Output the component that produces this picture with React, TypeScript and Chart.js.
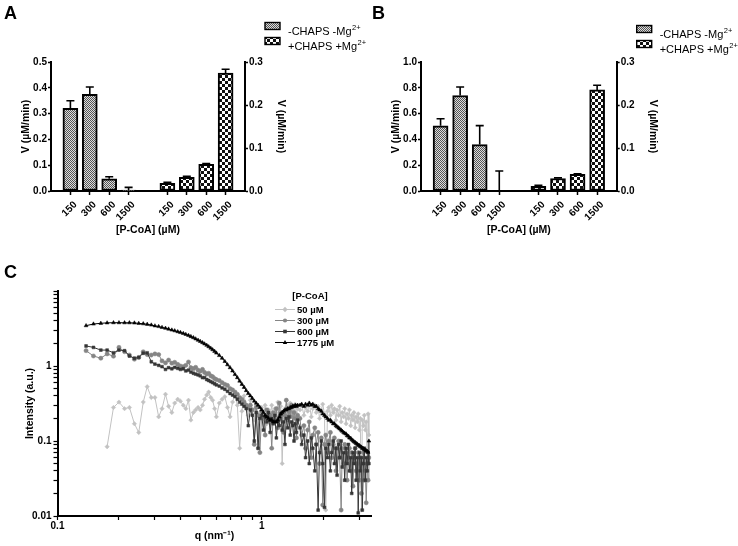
import React, { useEffect, useRef } from 'react';
import { Chart, registerables } from 'chart.js';

Chart.register(...registerables);

const FONT = "'Liberation Sans', Arial, Helvetica, sans-serif";
Chart.defaults.font.family = FONT;
Chart.defaults.color = '#000';

// ---------------- Panels A & B (bar charts) ----------------
const concentrations = ['150', '300', '600', '1500'];
const legendNames = ['-CHAPS -Mg', '+CHAPS +Mg'];
const legendSup = '2+';

const aMinus = [0.32, 0.375, 0.047, 0.004];
const aMinusErr = [0.03, 0.028, 0.008, 0.01];
const aPlus = [0.018, 0.032, 0.062, 0.274];
const aPlusErr = [0.002, 0.002, 0.002, 0.009];

const bMinus = [0.505, 0.74, 0.36, 0];
const bMinusErr = [0.055, 0.066, 0.147, 0.155];
const bPlus = [0.011, 0.029, 0.039, 0.235];
const bPlusErr = [0.002, 0.0015, 0.001, 0.011];

const aLeftAxis = { max: 0.5, step: 0.1 };
const bLeftAxis = { max: 1.0, step: 0.2 };
const rightAxis = { max: 0.3, step: 0.1 };

// ---------------- Panel C (SAXS curves) ----------------
const qLow = [0.138, 0.150, 0.163, 0.175, 0.188, 0.200, 0.213, 0.225, 0.238, 0.250,
  0.263, 0.275, 0.288, 0.300, 0.313, 0.325, 0.338, 0.350, 0.363, 0.375,
  0.388, 0.400, 0.413, 0.425, 0.438, 0.450, 0.463, 0.475, 0.488, 0.500,
  0.513, 0.525, 0.538, 0.550, 0.563, 0.575, 0.588, 0.600];
const qMid = [0.62, 0.64, 0.66, 0.68, 0.70, 0.72, 0.74, 0.76, 0.78, 0.80,
  0.82, 0.84, 0.86, 0.88, 0.90, 0.92, 0.94, 0.96, 0.98, 1.00,
  1.02, 1.04, 1.06, 1.08, 1.10, 1.12, 1.14, 1.16, 1.18, 1.20,
  1.22, 1.24, 1.26, 1.28, 1.30, 1.32, 1.34, 1.36, 1.38, 1.40,
  1.42, 1.44, 1.46, 1.48, 1.50];
const qHigh = [1.54, 1.57, 1.61, 1.64, 1.68, 1.71, 1.75, 1.78, 1.82, 1.85,
  1.89, 1.92, 1.96, 1.99, 2.03, 2.06, 2.10, 2.13, 2.17, 2.20,
  2.24, 2.27, 2.31, 2.34, 2.38, 2.41, 2.45, 2.48, 2.52, 2.55,
  2.59, 2.62, 2.66, 2.69, 2.73, 2.76, 2.80, 2.83, 2.87, 2.90,
  2.94, 2.97, 3.01, 3.04, 3.08, 3.11, 3.15, 3.18, 3.22, 3.25,
  3.29, 3.32, 3.35];

const i50Low = [null, null, null, 0.084, 0.28, 0.33, 0.27, 0.28, 0.17, 0.13,
  0.33, 0.53, 0.38, 0.38, 0.21, 0.27, 0.42, 0.29, 0.24, 0.32,
  0.36, 0.34, 0.30, 0.27, 0.35, 0.19, 0.24, 0.26, 0.28, 0.26,
  0.30, 0.36, 0.41, 0.45, 0.38, 0.35, 0.27, 0.21];
const i50Mid = [0.32, 0.36, 0.39, 0.28, 0.21, 0.33, 0.42, 0.30, 0.08, 0.25,
  0.40, 0.30, 0.22, 0.35, 0.26, 0.19, 0.30, 0.08, 0.24, 0.28,
  0.20, 0.30, 0.17, 0.26, 0.22, 0.30, 0.18, 0.27, 0.21, 0.33,
  0.24, 0.29, 0.05, 0.22, 0.27, 0.20, 0.30, 0.24, 0.32, 0.22,
  0.28, 0.25, 0.31, 0.23, 0.27];
const i50High = [0.26, 0.30, 0.22, 0.28, 0.25, 0.32, 0.21, 0.27, 0.30, 0.24,
  0.29, 0.20, 0.26, 0.31, 0.23, 0.012, 0.25, 0.28, 0.22, 0.30,
  0.24, 0.27, 0.19, 0.26, 0.22, 0.29, 0.18, 0.24, 0.21, 0.27,
  0.17, 0.23, 0.20, 0.26, 0.16, 0.22, 0.19, 0.24, 0.15, 0.21,
  0.18, 0.23, 0.14, 0.20, 0.012, 0.19, 0.16, 0.22, 0.14, 0.18,
  0.05, 0.23, 0.12];

const i300Low = [1.60, 1.36, 1.27, 1.45, 1.35, 1.77, 1.55, 1.40, 1.23, 1.30,
  1.55, 1.42, 1.40, 1.45, 1.42, 1.17, 1.10, 1.20, 1.09, 1.12,
  1.05, 1.00, 0.98, 1.02, 1.13, 0.95, 0.92, 0.96, 0.88, 0.85,
  0.90, 0.82, 0.78, 0.80, 0.74, 0.72, 0.68, 0.66];
const i300Mid = [0.64, 0.60, 0.57, 0.55, 0.50, 0.48, 0.45, 0.42, 0.38, 0.36,
  0.33, 0.30, 0.28, 0.30, 0.26, 0.09, 0.28, 0.22, 0.07, 0.25,
  0.20, 0.12, 0.26, 0.19, 0.22, 0.08, 0.24, 0.18, 0.27, 0.15,
  0.32, 0.20, 0.24, 0.13, 0.22, 0.35, 0.19, 0.25, 0.21, 0.30,
  0.17, 0.24, 0.20, 0.11, 0.22];
const i300High = [0.20, 0.12, 0.16, 0.08, 0.14, 0.18, 0.06, 0.12, 0.15, 0.09,
  0.13, 0.05, 0.11, 0.014, 0.09, 0.12, 0.07, 0.10, 0.13, 0.06,
  0.09, 0.11, 0.04, 0.08, 0.10, 0.06, 0.012, 0.08, 0.05, 0.09,
  0.07, 0.03, 0.06, 0.08, 0.04, 0.07, 0.025, 0.06, 0.08, 0.04,
  0.05, 0.07, 0.03, 0.06, 0.02, 0.05, 0.07, 0.03, 0.04, 0.015,
  0.05, 0.03, 0.06];

const i600Low = [1.85, 1.77, 1.63, 1.63, 1.50, 1.63, 1.60, 1.36, 1.27, 1.30,
  1.48, 1.50, 1.14, 1.06, 1.02, 0.98, 0.90, 0.95, 0.92, 0.96,
  0.93, 0.90, 0.92, 0.86, 0.88, 0.83, 0.80, 0.78, 0.76, 0.74,
  0.70, 0.70, 0.66, 0.64, 0.62, 0.60, 0.58, 0.56];
const i600Mid = [0.54, 0.51, 0.49, 0.46, 0.43, 0.41, 0.39, 0.36, 0.33, 0.31,
  0.29, 0.27, 0.16, 0.26, 0.22, 0.10, 0.24, 0.08, 0.20, 0.22,
  0.14, 0.21, 0.18, 0.24, 0.13, 0.20, 0.17, 0.22, 0.11, 0.19,
  0.16, 0.23, 0.14, 0.18, 0.09, 0.20, 0.15, 0.21, 0.12, 0.18,
  0.16, 0.10, 0.17, 0.13, 0.19];
const i600High = [0.15, 0.09, 0.12, 0.06, 0.10, 0.05, 0.11, 0.08, 0.04, 0.09,
  0.012, 0.07, 0.10, 0.05, 0.013, 0.08, 0.06, 0.09, 0.04, 0.07,
  0.10, 0.05, 0.08, 0.035, 0.09, 0.06, 0.10, 0.045, 0.07, 0.03,
  0.08, 0.05, 0.09, 0.04, 0.06, 0.02, 0.07, 0.05, 0.08, 0.03,
  0.06, 0.011, 0.07, 0.04, 0.06, 0.012, 0.05, 0.08, 0.03, 0.06,
  0.04, 0.07, 0.05];

const i1775Low = [3.45, 3.63, 3.71, 3.76, 3.78, 3.78, 3.77, 3.77, 3.75, 3.70,
  3.66, 3.60, 3.52, 3.43, 3.36, 3.27, 3.19, 3.11, 3.02, 2.95,
  2.87, 2.80, 2.72, 2.64, 2.56, 2.47, 2.39, 2.30, 2.21, 2.13,
  2.05, 1.97, 1.89, 1.81, 1.73, 1.65, 1.57, 1.49];
const i1775Mid = [1.38, 1.27, 1.15, 1.04, 0.95, 0.86, 0.77, 0.70, 0.63, 0.57,
  0.52, 0.47, 0.43, 0.40, 0.37, 0.34, 0.32, 0.30, 0.28, 0.26,
  0.24, 0.22, 0.21, 0.20, 0.19, 0.19, 0.18, 0.18, 0.18, 0.19,
  0.21, 0.23, 0.24, 0.25, 0.26, 0.26, 0.27, 0.27, 0.28, 0.28,
  0.29, 0.29, 0.30, 0.29, 0.30];
const i1775High = [0.30, 0.31, 0.29, 0.31, 0.30, 0.32, 0.30, 0.31, 0.29, 0.29,
  0.27, 0.26, 0.25, 0.23, 0.22, 0.21, 0.20, 0.19, 0.19, 0.18,
  0.17, 0.17, 0.16, 0.155, 0.15, 0.145, 0.14, 0.135, 0.13, 0.127,
  0.124, 0.118, 0.116, 0.11, 0.109, 0.104, 0.101, 0.098, 0.096, 0.093,
  0.091, 0.088, 0.087, 0.084, 0.083, 0.08, 0.079, 0.077, 0.076, 0.074,
  0.073, 0.071, 0.10];

const cSeriesLabels = ['50 \u00b5M', '300 \u00b5M', '600 \u00b5M', '1775 \u00b5M'];
const cXTickLabels = ['0.1', '1'];
const cYTickLabels = ['0.01', '0.1', '1'];

// ---------------- helpers ----------------
function makePattern(ctx: CanvasRenderingContext2D, kind: 'fine' | 'coarse'): CanvasPattern | string {
  const c = document.createElement('canvas');
  const g = c.getContext('2d');
  if (!g) return '#999';
  if (kind === 'fine') {
    c.width = 2; c.height = 2;
    g.fillStyle = '#dcdcdc'; g.fillRect(0, 0, 2, 2);
    g.fillStyle = '#555555'; g.fillRect(0, 0, 1, 1); g.fillRect(1, 1, 1, 1);
  } else {
    c.width = 6; c.height = 6;
    g.fillStyle = '#ffffff'; g.fillRect(0, 0, 6, 6);
    g.fillStyle = '#111111'; g.fillRect(0, 0, 3, 3); g.fillRect(3, 3, 3, 3);
  }
  return ctx.createPattern(c, 'repeat') || '#999';
}

const errorBarsPlugin = {
  id: 'errorBars',
  afterDatasetsDraw(chart: any) {
    const ctx = chart.ctx;
    ctx.save();
    ctx.strokeStyle = '#000';
    ctx.lineWidth = 1.6;
    chart.data.datasets.forEach((ds: any, di: number) => {
      if (!ds.errors) return;
      const meta = chart.getDatasetMeta(di);
      const yScale = chart.scales[ds.yAxisID];
      meta.data.forEach((el: any, j: number) => {
        const v = ds.data[j];
        const e = ds.errors[j];
        if (v == null || e == null) return;
        const x = el.x;
        const y0 = yScale.getPixelForValue(v);
        const y1 = yScale.getPixelForValue(v + e);
        ctx.beginPath();
        ctx.moveTo(x, y0);
        ctx.lineTo(x, y1);
        ctx.moveTo(x - 4, y1);
        ctx.lineTo(x + 4, y1);
        ctx.stroke();
      });
    });
    ctx.restore();
  },
};

interface BarPanel {
  minus: number[]; minusErr: number[]; plus: number[]; plusErr: number[];
  left: { max: number; step: number };
  width: number; plotRight: number; legendDy: number;
}

function buildBarChart(canvas: HTMLCanvasElement, p: BarPanel): Chart {
  const ctx = canvas.getContext('2d') as CanvasRenderingContext2D;
  const fine = makePattern(ctx, 'fine');
  const coarse = makePattern(ctx, 'coarse');
  const labels = [' ', ...concentrations, '', ...concentrations, ' '];
  const pad = (vals: number[], start: number) => labels.map((_, i) => (i >= start && i < start + vals.length ? vals[i - start] : null));

  const height = 270;
  const plotLeft = 51;
  const plotTop = 62;
  const plotBottom = 191;
  const xAxisH = 45;
  const rightAxisW = 42;

  const legendPlugin = {
    id: 'barLegend',
    afterDraw(chart: any) {
      const c = chart.ctx;
      const x0 = p.plotRight + 20;
      c.save();
      chart.data.datasets.forEach((ds: any, i: number) => {
        const top = 22.5 + p.legendDy + i * 15;
        c.fillStyle = ds.backgroundColor;
        c.fillRect(x0, top, 15, 7);
        c.strokeStyle = '#000';
        c.lineWidth = 1.4;
        c.strokeRect(x0, top, 15, 7);
        c.fillStyle = '#000';
        c.textAlign = 'left';
        c.textBaseline = 'alphabetic';
        c.font = `11px ${FONT}`;
        const base = top + 12;
        c.fillText(legendNames[i], x0 + 23, base);
        const w = c.measureText(legendNames[i]).width;
        c.font = `7.5px ${FONT}`;
        c.fillText(legendSup, x0 + 23 + w + 0.5, base - 4.5);
      });
      c.restore();
    },
  };

  const tickFont = { family: FONT, size: 10, weight: 'bold' as const };
  const titleFont = { family: FONT, size: 10.5, weight: 'bold' as const };

  return new Chart(canvas, {
    type: 'bar',
    data: {
      labels,
      datasets: [
        {
          label: legendNames[0],
          data: pad(p.minus, 1),
          errors: pad(p.minusErr, 1),
          yAxisID: 'y',
          backgroundColor: fine,
          borderColor: '#000',
          borderWidth: 2,
          borderSkipped: false,
          barThickness: 15,
          grouped: false,
        } as any,
        {
          label: legendNames[1],
          data: pad(p.plus, 6),
          errors: pad(p.plusErr, 6),
          yAxisID: 'y1',
          backgroundColor: coarse,
          borderColor: '#000',
          borderWidth: 2,
          borderSkipped: false,
          barThickness: 15,
          grouped: false,
        } as any,
      ],
    },
    options: {
      animation: false,
      responsive: false,
      events: [],
      layout: {
        padding: {
          left: 0,
          top: plotTop,
          right: p.width - p.plotRight - rightAxisW,
          bottom: height - plotBottom - xAxisH,
        },
      },
      plugins: { legend: { display: false }, tooltip: { enabled: false } },
      scales: {
        x: {
          type: 'category',
          offset: false,
          grid: {
            offset: false,
            drawOnChartArea: false,
            drawTicks: true,
            tickLength: 4,
            tickWidth: 1.5,
            tickColor: (c: any) => (c.tick && String(c.tick.label).trim() ? '#000' : 'rgba(0,0,0,0)'),
          },
          border: { display: true, color: '#000', width: 2 },
          ticks: { autoSkip: false, minRotation: 45, maxRotation: 45, font: tickFont, color: '#000', padding: 4, labelOffset: 5 },
          title: { display: true, text: '[P-CoA] (\u00b5M)', font: titleFont, color: '#000', padding: { top: 0, bottom: 0 } },
          afterFit: (s: any) => { s.height = xAxisH; },
        } as any,
        y: {
          type: 'linear',
          position: 'left',
          min: 0,
          max: p.left.max,
          ticks: { stepSize: p.left.step, font: tickFont, color: '#000', padding: 1, callback: (v: any) => Number(v).toFixed(1) },
          grid: { drawOnChartArea: false, tickLength: 3, tickWidth: 1.5, tickColor: '#000' },
          border: { display: true, color: '#000', width: 2 },
          title: { display: true, text: 'V (\u00b5M/min)', font: titleFont, color: '#000', padding: { top: 20, bottom: 0 } },
          afterFit: (s: any) => { s.width = plotLeft; },
        } as any,
        y1: {
          type: 'linear',
          position: 'right',
          min: 0,
          max: rightAxis.max,
          ticks: { stepSize: rightAxis.step, font: tickFont, color: '#000', padding: 1, callback: (v: any) => Number(v).toFixed(1) },
          grid: { drawOnChartArea: false, tickLength: 3, tickWidth: 1.5, tickColor: '#000' },
          border: { display: true, color: '#000', width: 2 },
          title: { display: true, text: 'V (\u00b5M/min)', font: titleFont, color: '#000', padding: { top: 0, bottom: 0 } },
          afterFit: (s: any) => { s.width = rightAxisW; },
        } as any,
      },
    },
    plugins: [errorBarsPlugin, legendPlugin],
  } as any);
}

function drawMarker(c: CanvasRenderingContext2D, style: string, x: number, y: number, r: number) {
  c.beginPath();
  if (style === 'triangle') {
    c.moveTo(x, y - r * 1.15);
    c.lineTo(x + r, y + r * 0.7);
    c.lineTo(x - r, y + r * 0.7);
    c.closePath();
  } else if (style === 'rect') {
    c.rect(x - r * 0.9, y - r * 0.9, r * 1.8, r * 1.8);
  } else if (style === 'rectRot') {
    c.moveTo(x, y - r * 1.2);
    c.lineTo(x + r * 1.2, y);
    c.lineTo(x, y + r * 1.2);
    c.lineTo(x - r * 1.2, y);
    c.closePath();
  } else {
    c.arc(x, y, r, 0, Math.PI * 2);
  }
  c.fill();
}

function buildSaxsChart(canvas: HTMLCanvasElement): Chart {
  const qAll = [...qLow, ...qMid, ...qHigh];
  const toPts = (vals: (number | null)[]) =>
    qAll.map((x, i) => ({ x, y: vals[i] })).filter((pt) => pt.y != null && pt.y !== undefined);

  const series = [
    { label: cSeriesLabels[0], vals: [...i50Low, ...i50Mid, ...i50High], color: '#c2c2c2', style: 'rectRot', r: 2.2, order: 3 },
    { label: cSeriesLabels[1], vals: [...i300Low, ...i300Mid, ...i300High], color: '#858585', style: 'circle', r: 2.1, order: 2 },
    { label: cSeriesLabels[2], vals: [...i600Low, ...i600Mid, ...i600High], color: '#363636', style: 'rect', r: 2.0, order: 1 },
    { label: cSeriesLabels[3], vals: [...i1775Low, ...i1775Mid, ...i1775High], color: '#000000', style: 'triangle', r: 2.2, order: 0 },
  ];

  const decades = [0.01, 0.1, 1];
  const mult = [1, 2, 3, 4, 5, 6, 7, 8, 9];
  const yTicks = [...decades.flatMap((d) => mult.map((m) => +(d * m).toPrecision(3))), 10];
  const xTicks = [...[0.1].flatMap((d) => mult.map((m) => +(d * m).toPrecision(3))), 1, 2, 3];

  const legendPlugin = {
    id: 'saxsLegend',
    afterDraw(chart: any) {
      const c = chart.ctx as CanvasRenderingContext2D;
      c.save();
      c.font = `bold 9.5px ${FONT}`;
      c.fillStyle = '#000';
      c.textAlign = 'center';
      c.textBaseline = 'middle';
      c.fillText('[P-CoA]', 310, 16.5);
      series.forEach((s, row) => {
        const y = 29.5 + row * 11;
        c.strokeStyle = s.color;
        c.lineWidth = 1;
        c.beginPath();
        c.moveTo(275, y);
        c.lineTo(295, y);
        c.stroke();
        c.fillStyle = s.color;
        drawMarker(c, s.style, 285, y, s.r);
        c.fillStyle = '#000';
        c.textAlign = 'left';
        c.fillText(s.label, 297, y + 0.5);
      });
      c.restore();
    },
  };

  const tickFont = { family: FONT, size: 10, weight: 'bold' as const };
  const titleFont = { family: FONT, size: 10.5, weight: 'bold' as const };

  return new Chart(canvas, {
    type: 'line',
    data: {
      datasets: series.map((s) => ({
        label: s.label,
        data: toPts(s.vals),
        borderColor: s.color,
        backgroundColor: s.color,
        borderWidth: 1,
        pointStyle: s.style,
        pointRadius: s.r,
        pointBorderWidth: 0.5,
        pointBackgroundColor: s.color,
        pointBorderColor: s.color,
        tension: 0,
        fill: false,
        order: s.order,
        spanGaps: true,
      })),
    },
    options: {
      animation: false,
      responsive: false,
      events: [],
      layout: { padding: { left: 0, top: 11, right: 8.5, bottom: 0 } },
      plugins: { legend: { display: false }, tooltip: { enabled: false } },
      scales: {
        x: {
          type: 'logarithmic',
          min: 0.1,
          max: 3.45,
          afterBuildTicks: (s: any) => { s.ticks = xTicks.map((v) => ({ value: v })); },
          ticks: {
            autoSkip: false, maxRotation: 0, font: tickFont, color: '#000', padding: 0,
            callback: (v: any) => (v === 0.1 ? cXTickLabels[0] : v === 1 ? cXTickLabels[1] : ''),
          },
          grid: { drawOnChartArea: false, tickLength: 4, tickWidth: 1.2, tickColor: '#000' },
          border: { display: true, color: '#000', width: 2 },
          title: { display: true, text: 'q (nm\u207b\u00b9)', font: titleFont, color: '#000', padding: { top: 0, bottom: 4 } },
          afterFit: (s: any) => { s.height = 30; },
        } as any,
        y: {
          type: 'logarithmic',
          min: 0.01,
          max: 10,
          afterBuildTicks: (s: any) => { s.ticks = yTicks.map((v) => ({ value: v })); },
          ticks: {
            autoSkip: false, font: tickFont, color: '#000', padding: 2,
            callback: (v: any) => (v === 0.01 ? cYTickLabels[0] : v === 0.1 ? cYTickLabels[1] : v === 1 ? cYTickLabels[2] : ''),
          },
          grid: { drawOnChartArea: false, tickLength: 4, tickWidth: 1.2, tickColor: '#000' },
          border: { display: true, color: '#000', width: 2 },
          title: { display: true, text: 'Intensity (a.u.)', font: titleFont, color: '#000', padding: { top: 24, bottom: 0 } },
          afterFit: (s: any) => { s.width = 57.5; },
        } as any,
      },
    },
    plugins: [legendPlugin],
  } as any);
}

const panelA: BarPanel = { minus: aMinus, minusErr: aMinusErr, plus: aPlus, plusErr: aPlusErr, left: aLeftAxis, width: 370, plotRight: 245, legendDy: 0 };
const panelB: BarPanel = { minus: bMinus, minusErr: bMinusErr, plus: bPlus, plusErr: bPlusErr, left: bLeftAxis, width: 368, plotRight: 246.7, legendDy: 3 };

const letterStyle = (left: number, top: number): React.CSSProperties => ({
  position: 'absolute', left, top, font: `bold 18px ${FONT}`, lineHeight: '18px', color: '#000', margin: 0,
});

export default function App() {
  const aRef = useRef<HTMLCanvasElement>(null);
  const bRef = useRef<HTMLCanvasElement>(null);
  const cRef = useRef<HTMLCanvasElement>(null);

  useEffect(() => {
    const charts: Chart[] = [];
    if (aRef.current) charts.push(buildBarChart(aRef.current, panelA));
    if (bRef.current) charts.push(buildBarChart(bRef.current, panelB));
    if (cRef.current) charts.push(buildSaxsChart(cRef.current));
    return () => charts.forEach((c) => c.destroy());
  }, []);

  return (
    <div style={{ position: 'absolute', left: 0, top: 0, width: 738, height: 546, background: '#fff', overflow: 'hidden' }}>
      <canvas ref={aRef} width={370} height={270} style={{ position: 'absolute', left: 0, top: 0, width: 370, height: 270 }} />
      <canvas ref={bRef} width={368} height={270} style={{ position: 'absolute', left: 370, top: 0, width: 368, height: 270 }} />
      <canvas ref={cRef} width={380} height={266} style={{ position: 'absolute', left: 0, top: 280, width: 380, height: 266 }} />
      <div style={letterStyle(4, 3.6)}>A</div>
      <div style={letterStyle(372, 3.6)}>B</div>
      <div style={letterStyle(4, 262.6)}>C</div>
    </div>
  );
}
